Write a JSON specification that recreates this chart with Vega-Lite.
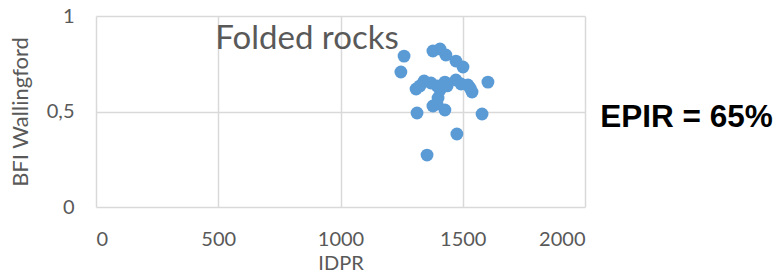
{
  "$schema": "https://vega.github.io/schema/vega-lite/v6.json",
  "autosize": "none",
  "width": 489,
  "height": 191,
  "padding": {"left": 96, "top": 16, "right": 192, "bottom": 69},
  "background": "white",
  "config": {
    "view": {"stroke": null},
    "font": "Lato",
    "axis": {
      "grid": true,
      "gridColor": "#d9d9d9",
      "gridWidth": 1.5,
      "domain": false,
      "ticks": false,
      "labelFont": "Lato",
      "labelFontSize": 20,
      "labelColor": "#595959",
      "titleFont": "Lato",
      "titleFontSize": 20,
      "titleFontWeight": "normal",
      "titleColor": "#595959"
    }
  },
  "layer": [
    {
      "data": {
        "values": [
          {"IDPR": 1260, "BFI": 0.79},
          {"IDPR": 1247, "BFI": 0.707},
          {"IDPR": 1378, "BFI": 0.817},
          {"IDPR": 1407, "BFI": 0.827},
          {"IDPR": 1431, "BFI": 0.796},
          {"IDPR": 1472, "BFI": 0.764},
          {"IDPR": 1501, "BFI": 0.733},
          {"IDPR": 1603, "BFI": 0.654},
          {"IDPR": 1309, "BFI": 0.618},
          {"IDPR": 1325, "BFI": 0.634},
          {"IDPR": 1342, "BFI": 0.66},
          {"IDPR": 1370, "BFI": 0.649},
          {"IDPR": 1395, "BFI": 0.634},
          {"IDPR": 1427, "BFI": 0.654},
          {"IDPR": 1436, "BFI": 0.634},
          {"IDPR": 1472, "BFI": 0.665},
          {"IDPR": 1493, "BFI": 0.644},
          {"IDPR": 1521, "BFI": 0.639},
          {"IDPR": 1538, "BFI": 0.602},
          {"IDPR": 1407, "BFI": 0.613},
          {"IDPR": 1399, "BFI": 0.571},
          {"IDPR": 1378, "BFI": 0.529},
          {"IDPR": 1427, "BFI": 0.508},
          {"IDPR": 1313, "BFI": 0.492},
          {"IDPR": 1579, "BFI": 0.487},
          {"IDPR": 1476, "BFI": 0.382},
          {"IDPR": 1354, "BFI": 0.272},
          {"IDPR": 1395, "BFI": 0.54},
          {"IDPR": 1530, "BFI": 0.623}
        ]
      },
      "mark": {"type": "circle", "size": 165, "opacity": 1, "color": "#5B9BD5"},
      "encoding": {
        "x": {
          "field": "IDPR", "type": "quantitative",
          "scale": {"domain": [0, 2000], "nice": false, "zero": false},
          "axis": {"values": [0, 500, 1000, 1500, 2000], "format": "d", "title": "IDPR", "labelPadding": 22, "titlePadding": 4}
        },
        "y": {
          "field": "BFI", "type": "quantitative",
          "scale": {"domain": [0, 1], "nice": false},
          "axis": {"values": [0, 0.5, 1], "format": "~g", "title": "BFI Wallingford", "titleFontSize": 22, "labelPadding": 22, "titlePadding": 14,
                   "labelExpr": "replace(datum.label, '.', ',')"}
        }
      }
    },
    {
      "data": {"values": [{"label": "Folded rocks"}]},
      "mark": {"type": "text", "fontSize": 33, "color": "#595959", "font": "Lato", "align": "center", "baseline": "middle"},
      "encoding": {
        "x": {"datum": 863, "type": "quantitative"},
        "y": {"datum": 0.88, "type": "quantitative"},
        "text": {"field": "label"}
      }
    },
    {
      "data": {"values": [{"label": "EPIR = 65%"}]},
      "mark": {"type": "text", "fontSize": 31.5, "fontWeight": "bold", "color": "#000000", "font": "Liberation Sans", "align": "center", "baseline": "middle"},
      "encoding": {
        "x": {"datum": 2415, "type": "quantitative"},
        "y": {"datum": 0.466, "type": "quantitative"},
        "text": {"field": "label"}
      }
    }
  ]
}
